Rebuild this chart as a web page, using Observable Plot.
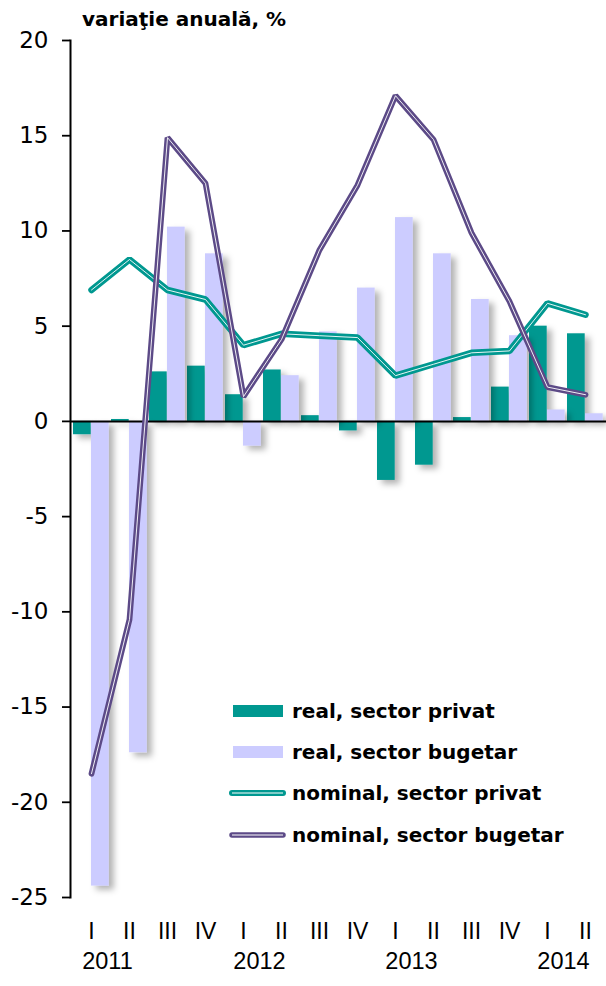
<!DOCTYPE html>
<html>
<head>
<meta charset="utf-8">
<script src="https://cdn.jsdelivr.net/npm/d3@7"></script>
<script src="https://cdn.jsdelivr.net/npm/@observablehq/plot@0.6"></script>
<style>
  html, body { margin: 0; padding: 0; background: #fff; }
  #wrap { position: relative; width: 606px; height: 986px; font-family: "Liberation Sans", Arial, sans-serif; color: #000; }
  #title { position: absolute; left: 82px; top: 9px; font-family: "DejaVu Sans", sans-serif; font-size: 20px; line-height: 20px; font-weight: bold; white-space: nowrap; }
  .lg { position: absolute; left: 229px; height: 20px; display: flex; align-items: center; font-family: "DejaVu Sans", sans-serif; font-size: 20px; line-height: 20px; font-weight: bold; white-space: nowrap; }
  .lg svg { display: block; margin-right: 6px; }
</style>
</head>
<body>
<div id="wrap">
  <div id="chart"></div>
  <div id="title">variaţie anuală, %</div>
  <div id="legend"></div>
</div>
<script>
// ---- data ----
const quarters = ["I","II","III","IV","I","II","III","IV","I","II","III","IV","I","II"];
const years    = [2011,2011,2011,2011,2012,2012,2012,2012,2013,2013,2013,2013,2014,2014];
const yearLabels = ["2011","2012","2013","2014"];
const realPrivat     = [-0.7, 0.1, 2.6, 2.9, 1.4, 2.7, 0.3, -0.5, -3.1, -2.3, 0.2, 1.8, 5.0, 4.6];
const realBugetar    = [-24.4, -17.4, 10.2, 8.8, -1.3, 2.4, 4.7, 7.0, 10.7, 8.8, 6.4, 4.5, 0.6, 0.4];
const nominalPrivat  = [6.9, 8.5, 6.9, 6.4, 4.0, 4.6, 4.5, 4.4, 2.4, 3.0, 3.6, 3.7, 6.2, 5.6];
const nominalBugetar = [-18.5, -10.4, 14.9, 12.5, 1.3, 4.3, 9.0, 12.4, 17.1, 14.8, 9.9, 6.3, 1.8, 1.4];
const yTicks = [-25, -20, -15, -10, -5, 0, 5, 10, 15, 20];
const seriesNames = ["real, sector privat", "real, sector bugetar", "nominal, sector privat", "nominal, sector bugetar"];

const colTeal = "#009890";
const colLav = "#CCCCFF";
const colPurple = "#5C4A87";

const keys = quarters.map((q, i) => years[i] + " " + q);
const qLabel = new Map(keys.map((k, i) => [k, quarters[i]]));
const rows = keys.map((k, i) => ({key: k, rp: realPrivat[i], rb: realBugetar[i], np: nominalPrivat[i], nb: nominalBugetar[i]}));
const yearRows = yearLabels.map(y => ({key: y + " I", label: y}));

const plot = Plot.plot({
  width: 606,
  height: 986,
  marginTop: 40,
  marginBottom: 89,
  marginLeft: 70,
  marginRight: 0,
  style: {fontFamily: "'Liberation Sans', Arial, sans-serif", color: "#000", background: "transparent", overflow: "visible"},
  x: {type: "band", domain: keys, padding: 0},
  y: {domain: [-25, 20]},
  marks: [
    Plot.barY(rows, {x: "key", y: "rp", fill: colTeal, insetLeft: 1, insetRight: 19.3}),
    Plot.barY(rows, {x: "key", y: "rb", fill: colLav, insetLeft: 19, insetRight: 1.3}),
    Plot.frame({anchor: "left", stroke: "#000", strokeWidth: 2}),
    Plot.ruleY([0], {stroke: "#000", strokeWidth: 2}),
    Plot.lineY(rows, {x: "key", y: "np", stroke: colTeal, strokeWidth: 6.5, strokeLinejoin: "miter"}),
    Plot.lineY(rows, {x: "key", y: "np", stroke: "#fff", strokeWidth: 0.9, strokeLinejoin: "miter"}),
    Plot.lineY(rows, {x: "key", y: "nb", stroke: colPurple, strokeWidth: 5.8, strokeLinejoin: "miter"}),
    Plot.lineY(rows, {x: "key", y: "nb", stroke: "#fff", strokeWidth: 0.9, strokeLinejoin: "miter"}),
    Plot.axisY({ticks: yTicks, tickSize: 8, tickPadding: 14, fontSize: 23, fontFamily: "DejaVu Sans", strokeWidth: 1.8, label: null, tickFormat: d => String(d)}),
    Plot.axisX({tickSize: 0, tickPadding: 25, fontSize: 23, label: null, tickFormat: d => qLabel.get(d)}),
    Plot.text(yearRows, {x: "key", text: "label", frameAnchor: "bottom", dy: 71, dx: 16, fontSize: 23.5})
  ]
});
document.getElementById("chart").appendChild(plot);

// drop shadow for bars
const svg = d3.select(plot);
const defs = svg.insert("defs", ":first-child");
const f = defs.append("filter").attr("id", "barShadow").attr("x", "-20%").attr("y", "-20%").attr("width", "160%").attr("height", "160%");
f.append("feDropShadow").attr("dx", 5).attr("dy", 4).attr("stdDeviation", 3).attr("flood-color", "#000").attr("flood-opacity", 0.3);
svg.selectAll("g[aria-label='bar']").attr("filter", "url(#barShadow)");

// legend
const legend = document.getElementById("legend");
const legendTops = [701, 742, 783, 825];
const swatches = [
  `<svg width="57" height="14"><rect x="4" y="1" width="50" height="12" fill="${colTeal}"/></svg>`,
  `<svg width="57" height="14"><rect x="4" y="1" width="50" height="12" fill="${colLav}"/></svg>`,
  `<svg width="57" height="14"><line x1="3" y1="7" x2="54" y2="7" stroke="${colTeal}" stroke-width="6" stroke-linecap="round"/><line x1="3" y1="7" x2="54" y2="7" stroke="#fff" stroke-width="1"/></svg>`,
  `<svg width="57" height="14"><line x1="3" y1="7" x2="54" y2="7" stroke="${colPurple}" stroke-width="5.5" stroke-linecap="round"/><line x1="3" y1="7" x2="54" y2="7" stroke="#fff" stroke-width="1"/></svg>`
];
seriesNames.forEach((name, i) => {
  const d = document.createElement("div");
  d.className = "lg";
  d.style.top = legendTops[i] + "px";
  d.innerHTML = swatches[i] + `<span>${name}</span>`;
  legend.appendChild(d);
});
</script>
</body>
</html>
